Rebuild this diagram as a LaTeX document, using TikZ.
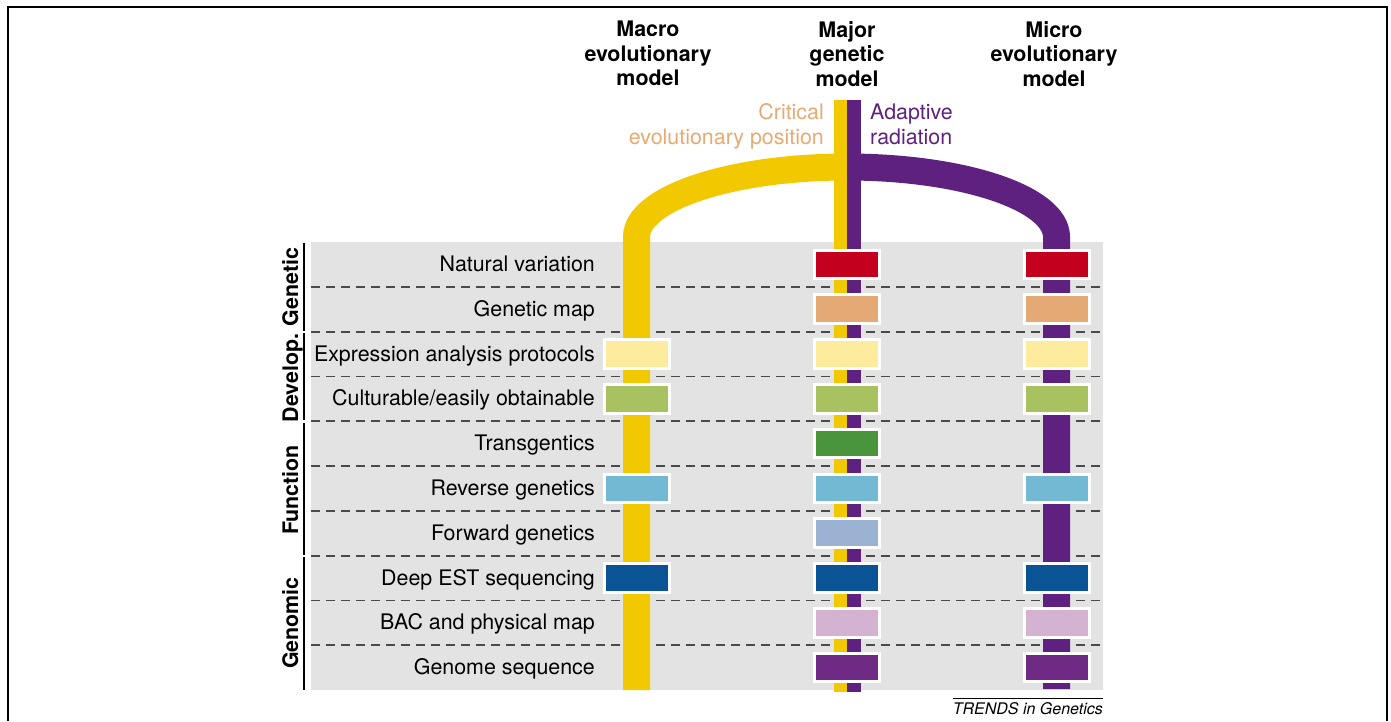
\documentclass[tikz,border=0pt]{standalone}
\usepackage{fontspec}
\setmainfont{TeX Gyre Heros}
\definecolor{bggray}{HTML}{E3E3E3}
\definecolor{cyel}{HTML}{F2C800}
\definecolor{cpur}{HTML}{5F2180}
\definecolor{cred}{HTML}{C4001F}
\definecolor{ctan}{HTML}{E5A975}
\definecolor{clyel}{HTML}{FDEB9E}
\definecolor{clgreen}{HTML}{A8C262}
\definecolor{cdgreen}{HTML}{4A953C}
\definecolor{clblue}{HTML}{74B9D3}
\definecolor{csteel}{HTML}{9CB2D3}
\definecolor{cdblue}{HTML}{0A5395}
\definecolor{clilac}{HTML}{D3B3D1}
\definecolor{cgpur}{HTML}{6E2A84}
\definecolor{ccrit}{HTML}{E9AA72}
\definecolor{dashgray}{HTML}{4A4A4A}
\tikzset{
  dashline/.style={draw=dashgray, line width=1.8pt, dash pattern=on 9pt off 6pt},
  catline/.style={draw=black, line width=1.5pt},
  ybar/.style={draw=cyel, line width=27pt},
  pbar/.style={draw=cpur, line width=27pt},
  cell/.style={draw=white, line width=3pt, minimum width=65pt, minimum height=28.5pt, inner sep=0pt, fill=#1},
  lbl/.style={anchor=base east, font=\fontsize{21.4}{24}\selectfont, inner sep=0pt},
  head/.style={anchor=north, align=center, font=\bfseries\fontsize{21.4}{24.5}\selectfont, inner sep=0pt},
  cat/.style={rotate=90, anchor=base, font=\bfseries\fontsize{21.4}{24}\selectfont, inner sep=0pt},
  note/.style={font=\fontsize{21.4}{25}\selectfont, inner sep=0pt}
}
\begin{document}
\begin{tikzpicture}[x=1pt,y=-1pt]
\useasboundingbox[fill=white] (0,0) rectangle (1391,721);
\draw[line width=2pt] (8,721) -- (8,7) -- (1387,7) -- (1387,721);
% grey table
\fill[bggray] (311,242) rectangle (1103,690);
\foreach \k in {1,...,9} \draw[dashline] (311,242+44.8*\k) -- (1103,242+44.8*\k);
% category brackets
\draw[catline] (304,243) -- (304,330.5);
\draw[catline] (304,333) -- (304,420);
\draw[catline] (304,423) -- (304,554.5);
\draw[catline] (304,557) -- (304,690);
% bars
\draw[ybar] (847,167) arc[start angle=-90,end angle=-180,x radius=210.5,y radius=70] -- (636.5,690);
\draw[pbar] (847,167) arc[start angle=-90,end angle=0,x radius=209.5,y radius=70] -- (1056.5,689);
\fill[cyel] (833.5,100) rectangle (847,692);
\fill[cpur] (847,100) rectangle (860.5,692);
% row 1
\node[lbl] (l1) at (595,271.4) {Natural variation};
\node[cell=cred] (b1b) at (847,264.4) {};
\node[cell=cred] (b1c) at (1056.5,264.4) {};
% row 2
\node[lbl] (l2) at (595,316.2) {Genetic map};
\node[cell=ctan] (b2b) at (847,309.2) {};
\node[cell=ctan] (b2c) at (1056.5,309.2) {};
% row 3
\node[lbl] (l3) at (595,361) {Expression analysis protocols};
\node[cell=clyel] (b3a) at (637,354) {};
\node[cell=clyel] (b3b) at (847,354) {};
\node[cell=clyel] (b3c) at (1056.5,354) {};
% row 4
\node[lbl] (l4) at (595,405.8) {Culturable/easily obtainable};
\node[cell=clgreen] (b4a) at (637,398.8) {};
\node[cell=clgreen] (b4b) at (847,398.8) {};
\node[cell=clgreen] (b4c) at (1056.5,398.8) {};
% row 5
\node[lbl] (l5) at (595,450.6) {Transgentics};
\node[cell=cdgreen] (b5b) at (847,443.6) {};
% row 6
\node[lbl] (l6) at (595,495.4) {Reverse genetics};
\node[cell=clblue] (b6a) at (637,488.4) {};
\node[cell=clblue] (b6b) at (847,488.4) {};
\node[cell=clblue] (b6c) at (1056.5,488.4) {};
% row 7
\node[lbl] (l7) at (595,540.2) {Forward genetics};
\node[cell=csteel] (b7b) at (847,533.2) {};
% row 8
\node[lbl] (l8) at (595,585) {Deep EST sequencing};
\node[cell=cdblue] (b8a) at (637,578) {};
\node[cell=cdblue] (b8b) at (847,578) {};
\node[cell=cdblue] (b8c) at (1056.5,578) {};
% row 9
\node[lbl] (l9) at (595,629.8) {BAC and physical map};
\node[cell=clilac] (b9b) at (847,622.8) {};
\node[cell=clilac] (b9c) at (1056.5,622.8) {};
% row 10
\node[lbl] (l10) at (595,674.6) {Genome sequence};
\node[cell=cgpur] (b10b) at (847,667.6) {};
\node[cell=cgpur] (b10c) at (1056.5,667.6) {};
% categories
\node[cat] (cgen) at (298,287) {Genetic};
\node[cat] (cdev) at (298,378) {Develop.};
\node[cat] (cfun) at (298,490) {Function};
\node[cat] (cgnm) at (298,623) {Genomic};
% headers
\node[head] (hmacro) at (648,21) {Macro\\evolutionary\\model};
\node[head] (hmajor) at (847,21) {Major\\genetic\\model};
\node[head] (hmicro) at (1054,21) {Micro\\evolutionary\\model};
\node[note, text=ccrit, anchor=north east, align=right] (crit) at (824,103.5) {Critical\\evolutionary position};
\node[note, text=cpur, anchor=north west, align=left] (adap) at (870,103.5) {Adaptive\\radiation};
% footer
\node[anchor=base east, inner sep=0pt, font=\itshape\fontsize{16}{18}\selectfont] (trends) at (1103,714) {TRENDS in Genetics};
\draw[line width=1pt] (953,698) -- (1103,698);
\end{tikzpicture}
\end{document}
